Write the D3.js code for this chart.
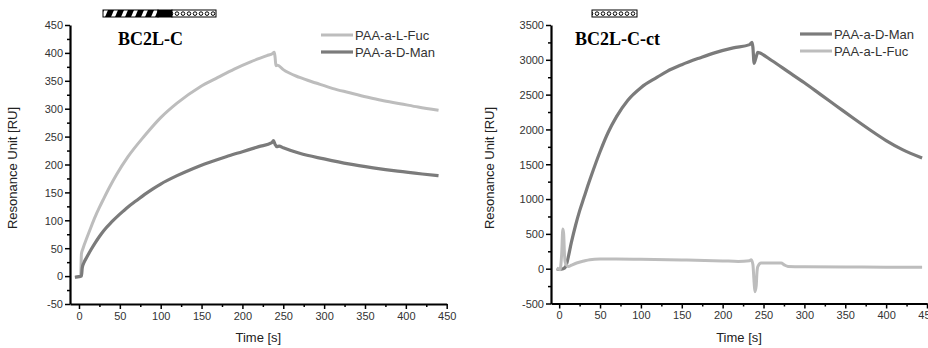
<!DOCTYPE html>
<html>
<head>
<meta charset="utf-8">
<script src="https://cdn.jsdelivr.net/npm/d3@7"></script>
<style>
  body { margin: 0; background: #fff; }
  svg { display: block; font-family: "Liberation Sans", Arial, sans-serif; }
  .tick text { fill: #333; font-size: 11px; }
</style>
</head>
<body>
<svg id="chart" width="928" height="348"></svg>
<script>
// ---- left panel (BC2L-C) ----
var fucLeftT = [-5, 0, 2, 3, 5, 10, 15, 20, 25, 30, 38, 46, 60, 80, 100, 120, 148, 170, 190, 210, 230, 237, 239, 240, 241, 243, 250, 270, 290, 311, 330, 352, 370, 393, 415, 440];
var fucLeftV = [-2, -1, 0, 40, 50, 70, 89, 107, 123, 138, 161, 182, 214, 251, 284, 310, 339, 356, 371, 384, 395, 399, 401, 392, 377, 378, 370, 356, 346, 336, 329, 321, 315, 309, 303, 297];
var manLeftT = [-5, 0, 3, 4, 6, 10, 15, 20, 25, 30, 40, 50, 60, 70, 80, 90, 100, 120, 140, 160, 180, 200, 220, 236, 238, 240, 242, 245, 250, 270, 300, 330, 360, 390, 420, 440];
var manLeftV = [-2, -1, 0, 15, 24, 35, 48, 60, 71, 81, 97, 111, 124, 135, 146, 156, 165, 180, 193, 204, 214, 223, 232, 239, 243, 236, 232, 233, 230, 220, 210, 201, 194, 188, 183, 180];

// ---- right panel (BC2L-C-ct) ----
var manRightT = [-3, 0, 5, 8, 10, 15, 20, 25, 30, 35, 40, 50, 60, 70, 84, 100, 120, 132, 150, 172, 190, 213, 233, 236, 237, 238.5, 240, 242, 243, 245, 260, 280, 300, 320, 340, 360, 380, 400, 420, 444];
var manRightV = [0, -10, 0, 30, 110, 380, 620, 830, 1010, 1190, 1360, 1680, 1960, 2180, 2420, 2600, 2750, 2835, 2930, 3027, 3100, 3171, 3218, 3250, 3180, 2950, 3000, 3080, 3108, 3100, 2990, 2830, 2670, 2500, 2330, 2160, 1995, 1840, 1710, 1590];
var fucRightT = [-3, 0, 1, 3, 4.5, 5.5, 6.5, 7.3, 9, 11.3, 15, 21.4, 30, 37.5, 50, 70, 100, 150, 200, 219, 233, 235, 237, 238.5, 239.5, 241, 242, 243, 247, 260, 271.5, 276, 280, 300, 350, 400, 444];
var fucRightV = [10, -10, -15, 200, 570, 500, 200, 100, 50, 30, 50, 82, 110, 129, 138, 140, 135, 125, 112, 105, 115, 130, 60, -200, -330, -250, -50, 30, 80, 80, 80, 50, 33, 28, 25, 22, 20];

// ticks
var xTicks = [0, 50, 100, 150, 200, 250, 300, 350, 400, 450];
var yTicksLeft = [-50, 0, 50, 100, 150, 200, 250, 300, 350, 400, 450];
var yTicksRight = [-500, 0, 500, 1000, 1500, 2000, 2500, 3000, 3500];

var lightGrey = "#bdbdbd", darkGrey = "#7b7b7b";

var svg = d3.select("#chart");

// patterns for the little protein domain bars
var defs = svg.append("defs");
var hatch = defs.append("pattern").attr("id", "hatch")
  .attr("patternUnits", "userSpaceOnUse").attr("width", 10).attr("height", 7).attr("y", 10);
hatch.append("rect").attr("width", 10).attr("height", 7).attr("fill", "#000");
hatch.append("path").attr("d", "M1,7 L4,0 L8,0 L5,7 Z").attr("fill", "#fff");
var dots = defs.append("pattern").attr("id", "dots")
  .attr("patternUnits", "userSpaceOnUse").attr("width", 6).attr("height", 7).attr("y", 10);
dots.append("rect").attr("width", 6).attr("height", 7).attr("fill", "#fff");
dots.append("circle").attr("cx", 3).attr("cy", 3.6).attr("r", 1.8)
  .attr("fill", "none").attr("stroke", "#000").attr("stroke-width", 1);

function zip(ts, vs) {
  return ts.map(function(t, i) { return {t: t, v: vs[i]}; });
}

var plain = function(d) { return String(d); };

function drawPanel(p) {
  var x = d3.scaleLinear().domain(p.xDomain).range(p.xRange);
  var y = d3.scaleLinear().domain(p.yDomain).range([p.bottom, p.top]);
  var g = svg.append("g");

  // minor ticks
  var xMinor = d3.range(25, 450, 50);
  var yStep = p.yTicks[1] - p.yTicks[0];
  var yMinor = p.yTicks.slice(0, -1).map(function(d) { return d + yStep / 2; });

  g.append("g").attr("transform", "translate(0," + p.bottom + ")")
    .call(d3.axisBottom(x).tickValues(xMinor).tickSize(3).tickFormat(""))
    .call(function(s) { s.select(".domain").remove(); s.selectAll("line").attr("stroke-width", 1.5); });
  g.append("g").attr("transform", "translate(" + p.xRange[0] + ",0)")
    .call(d3.axisLeft(y).tickValues(yMinor).tickSize(3).tickFormat(""))
    .call(function(s) { s.select(".domain").remove(); s.selectAll("line").attr("stroke-width", 1.5); });

  var xa = g.append("g").attr("transform", "translate(0," + p.bottom + ")")
    .call(d3.axisBottom(x).tickValues(xTicks).tickFormat(plain).tickSize(5).tickSizeOuter(0).tickPadding(3));
  xa.select(".domain").attr("stroke-width", 2.2);
  xa.selectAll("line").attr("stroke-width", 1.5);

  var ya = g.append("g").attr("transform", "translate(" + p.xRange[0] + ",0)")
    .call(d3.axisLeft(y).tickValues(p.yTicks).tickFormat(plain).tickSize(5).tickSizeOuter(0).tickPadding(2));
  ya.select(".domain").attr("stroke-width", 2.2);
  ya.selectAll("line").attr("stroke-width", 1.5);
  ya.selectAll("text").attr("dy", "0.35em");

  // axis titles
  g.append("text").attr("x", (p.xRange[0] + p.xRange[1]) / 2).attr("y", 342)
    .attr("text-anchor", "middle").attr("font-size", 13).attr("fill", "#222").text("Time [s]");
  g.append("text").attr("transform", "translate(" + p.yTitleX + ",168) rotate(-90)")
    .attr("text-anchor", "middle").attr("font-size", 13).attr("fill", "#222")
    .text("Resonance Unit [RU]");

  // panel label
  g.append("text").attr("x", p.labelX).attr("y", 45)
    .attr("font-family", "'Liberation Serif', 'Times New Roman', serif")
    .attr("font-weight", "bold").attr("font-size", 18).text(p.label);

  // domain bar
  p.bar.forEach(function(b) {
    g.append("rect").attr("x", b[0]).attr("y", 10).attr("width", b[1] - b[0]).attr("height", 7)
      .attr("fill", b[2]).attr("stroke", "#000").attr("stroke-width", 1);
  });

  var line = d3.line().x(function(d) { return x(d.t); }).y(function(d) { return y(d.v); })
    .curve(d3.curveMonotoneX);

  // series (drawn in order given) + legend
  p.series.forEach(function(s) {
    g.append("path").datum(zip(s.t, s.v)).attr("fill", "none")
      .attr("stroke", s.color).attr("stroke-width", s.width)
      .attr("stroke-linejoin", "round").attr("d", line);
  });
  p.legend.forEach(function(s, i) {
    var ly = p.legendY + i * 17;
    g.append("line").attr("x1", p.legendX).attr("x2", p.legendX + 32)
      .attr("y1", ly).attr("y2", ly).attr("stroke", s.color).attr("stroke-width", s.width);
    g.append("text").attr("x", p.legendX + 34).attr("y", ly + 4.5)
      .attr("font-size", 13).attr("fill", "#333").text(s.name);
  });
}

var fucL = {name: "PAA-a-L-Fuc", t: fucLeftT, v: fucLeftV, color: lightGrey, width: 3};
var manL = {name: "PAA-a-D-Man", t: manLeftT, v: manLeftV, color: darkGrey, width: 3.2};
var manR = {name: "PAA-a-D-Man", t: manRightT, v: manRightV, color: darkGrey, width: 3.2};
var fucR = {name: "PAA-a-L-Fuc", t: fucRightT, v: fucRightV, color: lightGrey, width: 3};

drawPanel({
  xDomain: [-11, 450], xRange: [70, 446.7],
  yDomain: [-50, 450], yTicks: yTicksLeft, top: 25, bottom: 304,
  yTitleX: 17, label: "BC2L-C", labelX: 118,
  bar: [[103, 158, "url(#hatch)"], [158, 172, "#000"], [172, 216, "url(#dots)"]],
  series: [fucL, manL], legend: [fucL, manL], legendX: 321, legendY: 35
});

drawPanel({
  xDomain: [-10, 450], xRange: [551, 927],
  yDomain: [-500, 3500], yTicks: yTicksRight, top: 25, bottom: 303.5,
  yTitleX: 494, label: "BC2L-C-ct", labelX: 575,
  bar: [[592, 637, "url(#dots)"]],
  series: [manR, fucR], legend: [manR, fucR], legendX: 800, legendY: 34
});
</script>
</body>
</html>
